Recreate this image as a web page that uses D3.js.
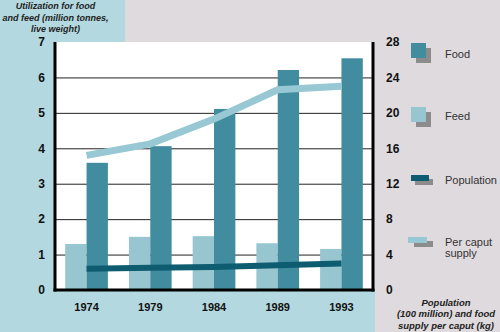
<!DOCTYPE html>
<html><head><meta charset="utf-8">
<script src="https://cdn.jsdelivr.net/npm/d3@7"></script>
<style>
html,body{margin:0;padding:0;background:#dedade;}
svg{display:block;font-family:"Liberation Sans",Arial,sans-serif;}
</style></head>
<body>
<script>
const years = ["1974","1979","1984","1989","1993"];
const food = [3.59, 4.06, 5.11, 6.21, 6.54];
const feed = [1.30, 1.50, 1.52, 1.32, 1.16];
const population = [2.4, 2.5, 2.6, 2.8, 3.0];
const perCaput = [15.2, 16.5, 19.3, 22.6, 23.0];
const leftTicks = [0,1,2,3,4,5,6,7];
const rightTicks = [0,4,8,12,16,20,24,28];

const W = 500, H = 332;
const L = 55, R = 373, T = 42, B = 290;
const cBlue = "#b3d8df", cGray = "#dedade";
const cFood = "#418c9f", cFeed = "#97c6d1", cPop = "#0e5c70", cPer = "#97c8d3", cShadow = "#8c8c8c";

const svg = d3.select("body").append("svg").attr("width", W).attr("height", H);
svg.append("rect").attr("width", W).attr("height", H).attr("fill", cGray);
svg.append("rect").attr("x",0).attr("y",0).attr("width",125).attr("height",T).attr("fill",cBlue);
svg.append("rect").attr("x",0).attr("y",0).attr("width",L).attr("height",H).attr("fill",cBlue);
svg.append("rect").attr("x",0).attr("y",B).attr("width",375).attr("height",H-B).attr("fill",cBlue);
svg.append("rect").attr("x",L).attr("y",T).attr("width",R-L).attr("height",B-T).attr("fill","#fff");

const x = d3.scaleBand().domain(years).range([L, R]).paddingInner(0.33).paddingOuter(0.16);
const xs = d3.scaleBand().domain(["Feed","Food"]).range([0, x.bandwidth()]);
const yL = d3.scaleLinear().domain([0,7]).range([B, T]);
const yR = d3.scaleLinear().domain([0,28]).range([B, T]);

// grid
const grid = svg.append("g").attr("transform", `translate(${L},0)`)
  .call(d3.axisLeft(yL).tickValues([1,2,3,4,5,6]).tickSize(-(R-L)).tickFormat(""));
grid.select(".domain").remove();
grid.selectAll("line").attr("stroke","#222").attr("stroke-width",1);

// bars
const g = svg.append("g");
years.forEach((yr, i) => {
  g.append("rect").attr("x", x(yr) + xs("Feed")).attr("width", xs.bandwidth())
    .attr("y", yL(feed[i])).attr("height", B - yL(feed[i])).attr("fill", cFeed);
  g.append("rect").attr("x", x(yr) + xs("Food")).attr("width", xs.bandwidth())
    .attr("y", yL(food[i])).attr("height", B - yL(food[i])).attr("fill", cFood);
});

const cx = yr => x(yr) + x.bandwidth()/2;
const linePer = d3.line().x((d,i)=>cx(years[i])).y(d=>yR(d));
svg.append("path").datum(perCaput).attr("d", linePer).attr("fill","none")
  .attr("stroke", cPer).attr("stroke-width", 7);
svg.append("path").datum(population).attr("d", linePer).attr("fill","none")
  .attr("stroke", cPop).attr("stroke-width", 6);

// axes frame
svg.append("line").attr("x1",L).attr("x2",L).attr("y1",T).attr("y2",B+1.5).attr("stroke","#000").attr("stroke-width",3);
svg.append("line").attr("x1",R).attr("x2",R).attr("y1",T).attr("y2",B+1.5).attr("stroke","#000").attr("stroke-width",3);
svg.append("line").attr("x1",L-1.5).attr("x2",R+1.5).attr("y1",B).attr("y2",B).attr("stroke","#000").attr("stroke-width",3);

// tick labels
const ax1 = svg.append("g").attr("transform",`translate(${L},0)`)
  .call(d3.axisLeft(yL).tickValues(leftTicks).tickSize(0).tickPadding(10).tickFormat(d3.format("d")));
const ax2 = svg.append("g").attr("transform",`translate(${R},0)`)
  .call(d3.axisRight(yR).tickValues(rightTicks).tickSize(0).tickPadding(13).tickFormat(d3.format("d")));
const ax3 = svg.append("g").attr("transform",`translate(0,${B})`)
  .call(d3.axisBottom(x).tickSize(0).tickPadding(13));
[ax1,ax2,ax3].forEach(a => {
  a.select(".domain").remove();
  a.selectAll("text").attr("font-family","'Liberation Sans',Arial,sans-serif")
    .attr("font-weight","bold").attr("fill","#111");
});
ax1.selectAll("text").attr("font-size",12);
ax2.selectAll("text").attr("font-size",12);
ax3.selectAll("text").attr("font-size",11);

// titles
const t1 = svg.append("text").attr("x",55.5).attr("font-size",9).attr("font-weight","bold")
  .attr("font-style","italic").attr("text-anchor","middle").attr("fill","#222");
["Utilization for food","and feed (million tonnes,","live weight)"].forEach((s,i)=>
  t1.append("tspan").attr("x",55.5).attr("y",9 + i*11.7).text(s));
const t2 = svg.append("text").attr("x",446).attr("font-size",9.5).attr("font-weight","bold")
  .attr("font-style","italic").attr("text-anchor","middle").attr("fill","#222");
["Population","(100 million) and food","supply per caput (kg)"].forEach((s,i)=>
  t2.append("tspan").attr("x",446).attr("y",305.5 + i*11.5).text(s));

// legend
const lg = svg.append("g");
function sw(x0,y0,w,h,dx,dy,c){
  lg.append("rect").attr("x",x0+dx).attr("y",y0+dy).attr("width",w).attr("height",h).attr("fill",cShadow);
  lg.append("rect").attr("x",x0).attr("y",y0).attr("width",w).attr("height",h).attr("fill",c);
}
sw(411,43,15,15,5,5,cFood);
sw(411,107,15,15,5,5,cFeed);
sw(411,175,18,6,4,4,cPop);
sw(408,237,19,6,6,4,cPer);
const lt = [["Food",58],["Feed",120],["Population",183.5]];
lt.forEach(([s,y])=>lg.append("text").attr("x",445).attr("y",y).attr("font-size",11).attr("fill","#333").text(s));
lg.append("text").attr("x",445).attr("y",245.5).attr("font-size",11).attr("fill","#333").text("Per caput");
lg.append("text").attr("x",445).attr("y",257).attr("font-size",11).attr("fill","#333").text("supply");
</script>
</body></html>
